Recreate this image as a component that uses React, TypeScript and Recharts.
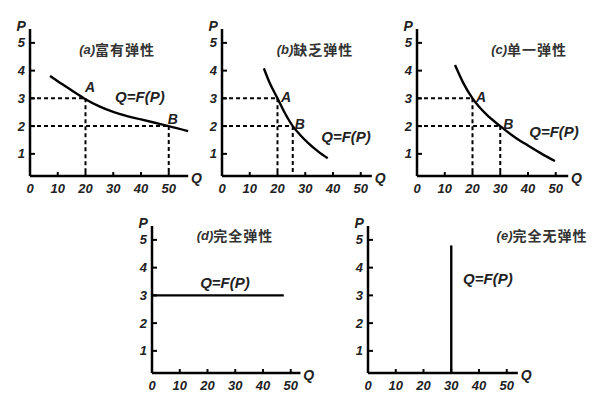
import React from 'react';
import {LineChart, Line, XAxis, YAxis, ReferenceLine, ReferenceDot} from 'recharts';

const qTicks = [0, 10, 20, 30, 40, 50];
const pTicks = [1, 2, 3, 4, 5];

// (a) 富有弹性
const elasticQ = [7.2, 10, 13.2, 16.5, 20, 25, 30, 35, 40, 45, 50, 57];
const elasticP = [3.81, 3.62, 3.41, 3.19, 2.97, 2.71, 2.51, 2.36, 2.24, 2.12, 2.0, 1.82];
const elasticPoints = [{name: 'A', q: 20, p: 3}, {name: 'B', q: 50, p: 2}];

// (b) 缺乏弹性
const inelasticQ = [15.1, 17, 20, 22.5, 25.5, 28, 31, 34.5, 38.1];
const inelasticP = [4.08, 3.6, 3.0, 2.5, 2.0, 1.7, 1.4, 1.1, 0.84];
const inelasticPoints = [{name: 'A', q: 20, p: 3}, {name: 'B', q: 25.5, p: 2}];

// (c) 单一弹性
const unitQ = [13.7, 16.7, 20, 25, 30, 35, 40, 45, 49.7];
const unitP = [4.2, 3.55, 3.0, 2.42, 2.0, 1.62, 1.3, 1.0, 0.74];
const unitPoints = [{name: 'A', q: 20, p: 3}, {name: 'B', q: 30, p: 2}];

// (d) 完全弹性
const perfElasticQ = [0, 47.5];
const perfElasticP = [3, 3];

// (e) 完全无弹性
const perfInelasticQ = [30, 30];
const perfInelasticP = [0.2, 4.8];

const P_MIN = 0.2;
const P_MAX = 5.5;
const UNIT = 27.75; // px per 1 P, per 10 Q
const latin = '"Liberation Sans", Arial, sans-serif';
const cjk = '"Noto Sans CJK SC", sans-serif';
const ink = '#222';

const zip = (qs: number[], ps: number[]) => qs.map((q, i) => ({q, p: ps[i]}));

const XTick = (props: any) => {
    const {x, y, payload} = props;
    return (
        <g>
            {payload.value !== 0 && (
                <line x1={x} x2={x} y1={y} y2={y - 4} stroke="#000" strokeWidth={2} />
            )}
            <text x={x} y={y + 12} textAnchor="middle" dominantBaseline="central"
                fontFamily={latin} fontWeight="bold" fontStyle="italic" fontSize={13} fill={ink}>
                {payload.value}
            </text>
        </g>
    );
};

const YTick = (props: any) => {
    const {x, y, payload} = props;
    return (
        <g>
            <line x1={x} x2={x + 5} y1={y} y2={y} stroke="#000" strokeWidth={2} />
            <text x={x - 5} y={y} textAnchor="end" dominantBaseline="central"
                fontFamily={latin} fontWeight="bold" fontStyle="italic" fontSize={13} fill={ink}>
                {payload.value}
            </text>
        </g>
    );
};

const tag = (text: string, dx = 0, dy = 0, size = 14) => (props: any) => {
    const vb = props.viewBox;
    return (
        <text x={vb.x + dx} y={vb.y + dy} textAnchor="middle" dominantBaseline="central"
            fontFamily={latin} fontWeight="bold" fontStyle="italic" fontSize={size} fill={ink}>
            {text}
        </text>
    );
};

const title = (letter: string, name: string) => (props: any) => {
    const vb = props.viewBox;
    return (
        <text x={vb.x} y={vb.y} textAnchor="middle" dominantBaseline="central" fill="#333">
            <tspan fontFamily={latin} fontWeight="bold" fontStyle="italic" fontSize={13}>
                {`(${letter})`}
            </tspan>
            <tspan fontFamily={cjk} fontWeight="bold" fontSize={14} letterSpacing={1}>
                {name}
            </tspan>
        </text>
    );
};

type Mark = {text: string; q: number; p: number; size?: number};
type PanelProps = {
    left: number; // pixel of Q = 0
    bottom: number; // pixel of the Q axis
    qMax: number;
    right?: number;
    curve: {q: number; p: number}[];
    smooth?: boolean;
    points?: {name: string; q: number; p: number}[];
    pointOffsets?: [number, number][];
    letter: string;
    name: string;
    titleAt: [number, number];
    formulaAt: [number, number];
};

const Panel = ({left, bottom, qMax, right = 24, curve, smooth, points = [], pointOffsets = [],
    letter, name, titleAt, formulaAt}: PanelProps) => {
    const yw = 30;
    const top = 22;
    const xh = 26;
    const plotW = (qMax * UNIT) / 10;
    const plotH = (P_MAX - P_MIN) * UNIT;
    const width = yw + plotW + right;
    const height = top + plotH + xh;
    const labels: Mark[] = [
        {text: 'P', q: -3.2, p: 5.6},
        {text: 'Q', q: qMax + 3, p: P_MIN - 0.08},
        {text: 'Q=F(P)', q: formulaAt[0], p: formulaAt[1], size: 15},
    ];
    return (
        <div style={{position: 'absolute', left: left - yw, top: bottom - plotH - top}}>
            <LineChart width={width} height={height} margin={{top, right, bottom: 0, left: 0}}>
                <XAxis type="number" dataKey="q" domain={[0, qMax]} ticks={qTicks}
                    axisLine={{stroke: '#000', strokeWidth: 2.5}} tickLine={false}
                    tickSize={0} tickMargin={0} height={xh} tick={<XTick />} interval={0} />
                <YAxis type="number" dataKey="p" domain={[P_MIN, P_MAX]} ticks={pTicks}
                    axisLine={{stroke: '#000', strokeWidth: 2.5}} tickLine={false}
                    tickSize={0} tickMargin={0} width={yw} tick={<YTick />} interval={0} />
                {points.map((pt) => (
                    <ReferenceLine key={`h${pt.name}`} segment={[{x: 0, y: pt.p}, {x: pt.q, y: pt.p}]}
                        stroke="#000" strokeWidth={2} strokeDasharray="4 3" />
                ))}
                {points.map((pt) => (
                    <ReferenceLine key={`v${pt.name}`} segment={[{x: pt.q, y: pt.p}, {x: pt.q, y: P_MIN}]}
                        stroke="#000" strokeWidth={2} strokeDasharray="4 3" />
                ))}
                <Line data={curve} dataKey="p" type={smooth ? 'monotone' : 'linear'} stroke="#000"
                    strokeWidth={2.4} dot={false} activeDot={false} isAnimationActive={false} />
                {points.map((pt, i) => (
                    <ReferenceDot key={`l${pt.name}`} x={pt.q} y={pt.p} r={0} fill="none" stroke="none"
                        ifOverflow="visible"
                        label={tag(pt.name, pointOffsets[i]?.[0] ?? 0, pointOffsets[i]?.[1] ?? 0)} />
                ))}
                {labels.map((m) => (
                    <ReferenceDot key={m.text} x={m.q} y={m.p} r={0} fill="none" stroke="none"
                        ifOverflow="visible" label={tag(m.text, 0, 0, m.size ?? 14)} />
                ))}
                <ReferenceDot x={titleAt[0]} y={titleAt[1]} r={0} fill="none" stroke="none"
                    ifOverflow="visible" label={title(letter, name)} />
            </LineChart>
        </div>
    );
};

export default function App() {
    return (
        <div style={{position: 'absolute', left: 0, top: 0, width: 600, height: 394,
            background: '#fff', overflow: 'hidden'}}>
            <Panel left={30} bottom={176} qMax={57} curve={zip(elasticQ, elasticP)} smooth
                points={elasticPoints} pointOffsets={[[4.5, -11], [4, -7]]}
                letter="a" name="富有弹性" titleAt={[31.4, 4.78]} formulaAt={[39.6, 3.05]} />
            <Panel left={222} bottom={176} qMax={54} curve={zip(inelasticQ, inelasticP)} smooth
                points={inelasticPoints} pointOffsets={[[8.5, -1], [7, -2]]}
                letter="b" name="缺乏弹性" titleAt={[33.5, 4.78]} formulaAt={[44.7, 1.61]} />
            <Panel left={417} bottom={176} qMax={54.5} curve={zip(unitQ, unitP)} smooth
                points={unitPoints} pointOffsets={[[8.5, -1], [8, -2]]}
                letter="c" name="单一弹性" titleAt={[40.4, 4.78]} formulaAt={[49.4, 1.82]} />
            <Panel left={152} bottom={373} qMax={53.5} curve={zip(perfElasticQ, perfElasticP)}
                letter="d" name="完全弹性" titleAt={[29.9, 5.17]} formulaAt={[26.3, 3.48]} />
            <Panel left={368} bottom={373} qMax={54} right={80} curve={zip(perfInelasticQ, perfInelasticP)}
                letter="e" name="完全无弹性" titleAt={[62.7, 5.17]} formulaAt={[43.2, 3.62]} />
        </div>
    );
}
